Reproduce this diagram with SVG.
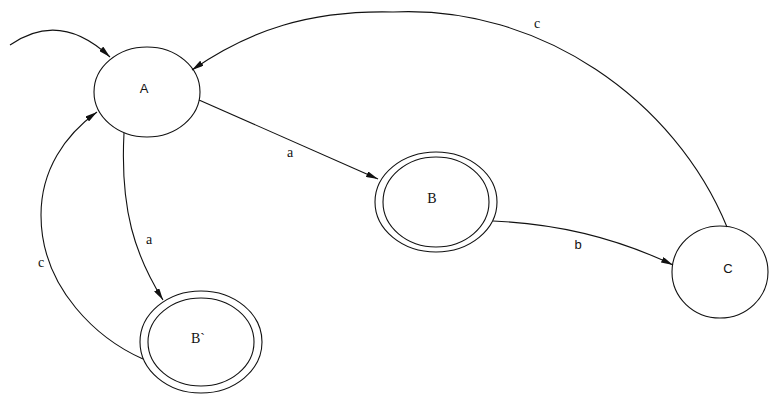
<svg xmlns="http://www.w3.org/2000/svg" width="769" height="394" viewBox="0 0 769 394">
<style>
.st{fill:none;stroke:#111;stroke-width:1.1}
.ed{fill:none;stroke:#111;stroke-width:1.1;marker-end:url(#ah)}
.sans{font-family:"Liberation Sans",Arial,sans-serif;font-size:13px;fill:#111;text-anchor:middle}
.serif{font-family:"Liberation Serif","Times New Roman",serif;font-size:14px;fill:#111;text-anchor:middle}
</style>
<defs>
<marker id="ah" viewBox="0 0 12 6" refX="12" refY="3" markerWidth="12" markerHeight="6" markerUnits="userSpaceOnUse" orient="auto">
<path d="M0,0 L12,3 L0,6 z" fill="#111"/>
</marker>
</defs>
<rect width="769" height="394" fill="#fff"/>
<g id="connectors">
<path class="ed" d="M10,45 Q60,10 110,57"/>
<path class="ed" d="M199,100 L378,179"/>
<path class="ed" d="M493,221 Q590,225 673,265"/>
<path class="ed" d="M727,227 C675,100 540,5 393,12 C310,10 250,30 192,70"/>
<path class="ed" d="M124,133 C120,210 135,255 163,300"/>
<path class="ed" d="M143,359 C100,340 41,290 41,215 C41,170 65,135 97,112"/>
<text class="serif" x="290" y="157">a</text>
<text class="sans" x="578" y="249">b</text>
<text class="serif" x="537" y="28">c</text>
<text class="serif" x="149" y="244">a</text>
<text class="serif" x="41" y="267">c</text>
</g>
<g id="A">
<ellipse class="st" cx="147" cy="92" rx="53" ry="45"/>
<text class="sans" x="144" y="93">A</text>
</g>
<g id="B">
<ellipse class="st" cx="436" cy="202" rx="61" ry="50"/>
<ellipse class="st" cx="436" cy="202" rx="53" ry="45"/>
<text class="serif" x="432" y="203">B</text>
</g>
<g id="C">
<ellipse class="st" cx="720" cy="272" rx="48" ry="46"/>
<text class="sans" x="728" y="273">C</text>
</g>
<g id="Bprime">
<ellipse class="st" cx="201" cy="342" rx="61" ry="51"/>
<ellipse class="st" cx="201" cy="342" rx="53" ry="44"/>
<text class="serif" x="198" y="343">B`</text>
</g>
</svg>
